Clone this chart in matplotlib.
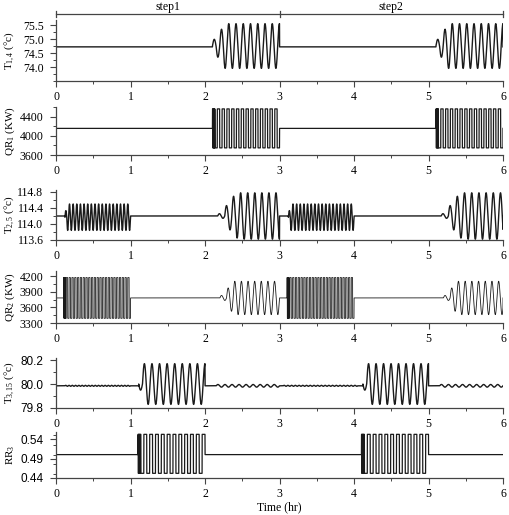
import numpy as np
import matplotlib
matplotlib.use('Agg')
import matplotlib.pyplot as plt
from matplotlib.ticker import MultipleLocator
import matplotlib.transforms as mtransforms

# ---- values ----
# T1,4 : baseline, then a growing sine in each step
T14_BASE = 74.72
T14_START = [2.10, 5.10]
T14_END = [3.00, 6.00]
T14_CYCLES = [9.25, 9.25]
T14_MID = 74.75
T14_AMP = 0.80
T14_RAMP = [0.30, 0.50, 0.75, 1.0]

# QR1 : square wave (with a dense burst at its start)
QR1_BASE = 4160
QR1_START = [2.10, 5.10]
QR1_END = [3.00, 6.00]
QR1_CYCLES = [14, 14]
QR1_HI = 4570
QR1_LO = 3750

# T2,5 : fast small sine, then slow large sine
T25_BASE = 114.2
T25_FAST_START = [0.12, 3.12]
T25_FAST_END = [1.00, 4.00]
T25_FAST_CYCLES = [18, 18]
T25_FAST_MID = 114.17
T25_FAST_AMP = 0.33
T25_FAST_RAMP = [0.5]
T25_SLOW_START = [2.17, 5.17]
T25_SLOW_END = [3.00, 6.00]
T25_SLOW_CYCLES = [8.75, 8.6]
T25_SLOW_MID = 114.2
T25_SLOW_AMP = 0.58
T25_SLOW_RAMP = [0.1, 0.1, 0.45, 0.6, 0.85, 0.95]

# QR2 : fast square wave, then growing sine
QR2_BASE = 3780
QR2_SQ_START = [0.10, 3.10]
QR2_SQ_END = [1.00, 4.00]
QR2_SQ_CYCLES = [24, 24]
QR2_HI = 4170
QR2_LO = 3390
QR2_SIN_START = [2.20, 5.20]
QR2_SIN_END = [3.00, 6.00]
QR2_SIN_CYCLES = [9, 8.9]
QR2_SIN_AMP = 320
QR2_SIN_RAMP = [0.15, 0.15, 0.6, 0.8]

# T3,15 : ripples, big sine, ripples
T315_BASE = 79.985
T315_PRE_START = [0.12, 3.05]
T315_PRE_END = [1.00, 4.05]
T315_PRE_CYCLES = [20, 20]
T315_PRE_AMP = 0.004
T315_BIG_START = [1.11, 4.12]
T315_BIG_END = [2.00, 5.00]
T315_BIG_CYCLES = [8.75, 8.75]
T315_BIG_MID = 80.0
T315_BIG_AMP = 0.17
T315_BIG_RAMP = [0.3]
T315_POST_START = [2.15, 5.15]
T315_POST_END = [3.00, 6.00]
T315_POST_CYCLES = [9, 9]
T315_POST_AMP = 0.011

# RR3 : square wave
RR3_BASE = 0.500
RR3_START = [1.10, 4.10]
RR3_END = [2.00, 5.00]
RR3_CYCLES = [11.5, 11.5]
RR3_HI = 0.552
RR3_LO = 0.452

X_TICKS = [0, 1, 2, 3, 4, 5, 6]
STEP_LABELS = ['step1', 'step2']
STEP_EDGES = [0, 3, 6]

t = np.linspace(0, 6, 24001)


def add_sine(y, t0, t1, cycles, mid, amp, ramp=(), sign=1):
    m = (t >= t0) & (t < t1)
    ph = (t[m] - t0) / (t1 - t0) * cycles
    env = np.ones_like(ph)
    for i, r in enumerate(ramp):
        env[(ph >= i * 0.5) & (ph < (i + 1) * 0.5)] = r
    y[m] = mid + sign * amp * env * np.sin(2 * np.pi * ph)


def add_square(y, t0, t1, cycles, hi, lo, burst=0.03, nburst=4):
    m = (t >= t0) & (t < t1)
    ph = (t[m] - t0) / (t1 - t0) * cycles
    y[m] = np.where((ph % 1) < 0.5, hi, lo)
    b = (t >= t0) & (t < t0 + burst)
    phb = (t[b] - t0) / burst * nburst
    y[b] = np.where((phb % 1) < 0.5, hi, lo)


# build the six traces
y1 = np.full_like(t, T14_BASE)
for a, b, c in zip(T14_START, T14_END, T14_CYCLES):
    add_sine(y1, a, b, c, T14_MID, T14_AMP, T14_RAMP)

y2 = np.full_like(t, QR1_BASE)
for a, b, c in zip(QR1_START, QR1_END, QR1_CYCLES):
    add_square(y2, a, b, c, QR1_HI, QR1_LO)

y3 = np.full_like(t, T25_BASE)
for a, b, c in zip(T25_FAST_START, T25_FAST_END, T25_FAST_CYCLES):
    add_sine(y3, a, b, c, T25_FAST_MID, T25_FAST_AMP, T25_FAST_RAMP)
for a, b, c in zip(T25_SLOW_START, T25_SLOW_END, T25_SLOW_CYCLES):
    add_sine(y3, a, b, c, T25_SLOW_MID, T25_SLOW_AMP, T25_SLOW_RAMP)

y4 = np.full_like(t, QR2_BASE)
for a, b, c in zip(QR2_SQ_START, QR2_SQ_END, QR2_SQ_CYCLES):
    add_square(y4, a, b, c, QR2_HI, QR2_LO)
for a, b, c in zip(QR2_SIN_START, QR2_SIN_END, QR2_SIN_CYCLES):
    add_sine(y4, a, b, c, QR2_BASE, QR2_SIN_AMP, QR2_SIN_RAMP)

y5 = np.full_like(t, T315_BASE)
for a, b, c in zip(T315_PRE_START, T315_PRE_END, T315_PRE_CYCLES):
    add_sine(y5, a, b, c, T315_BASE, T315_PRE_AMP)
for a, b, c in zip(T315_BIG_START, T315_BIG_END, T315_BIG_CYCLES):
    add_sine(y5, a, b, c, T315_BIG_MID, T315_BIG_AMP, T315_BIG_RAMP, sign=-1)
for a, b, c in zip(T315_POST_START, T315_POST_END, T315_POST_CYCLES):
    add_sine(y5, a, b, c, T315_BASE, T315_POST_AMP)

y6 = np.full_like(t, RR3_BASE)
for a, b, c in zip(RR3_START, RR3_END, RR3_CYCLES):
    add_square(y6, a, b, c, RR3_HI, RR3_LO)

plt.rcParams['font.family'] = 'Liberation Serif'
plt.rcParams['mathtext.fontset'] = 'custom'
plt.rcParams['mathtext.rm'] = 'Liberation Serif'
plt.rcParams['mathtext.it'] = 'Liberation Serif:italic'
plt.rcParams['font.size'] = 8.5

W, H = 509, 515
fig = plt.figure(figsize=(W / 100, H / 100), dpi=100)

# (top px, bottom px) of each panel, trace, ylim, major, minor, y label, tick font, format, line width
panels = [
    ((20, 81), y1, (73.5, 75.68), [74.0, 74.5, 75.0, 75.5], 0.25,
     r'T$_{\mathrm{1,4}}$ (°c)', 'Liberation Serif', '%.1f', 1.0),
    ((107, 155), y2, (3600, 4610), [3600, 4000, 4400], 200,
     r'QR$_{\mathrm{1}}$ (KW)', 'Liberation Serif', '%d', 0.9),
    ((190, 240), y3, (113.6, 114.85), [113.6, 114.0, 114.4, 114.8], 0.2,
     r'T$_{\mathrm{2,5}}$ (°c)', 'Liberation Serif', '%.1f', 1.0),
    ((271, 323), y4, (3300, 4296), [3300, 3600, 3900, 4200], 150,
     r'QR$_{\mathrm{2}}$ (KW)', 'Liberation Serif', '%d', 0.6),
    ((358, 408), y5, (79.8, 80.217), [79.8, 80.0, 80.2], 0.1,
     r'T$_{\mathrm{3,15}}$ (°c)', 'Liberation Sans', '%.1f', 1.0),
    ((432, 478), y6, (0.44, 0.558), [0.44, 0.49, 0.54], 0.025,
     r'RR$_{\mathrm{3}}$', 'Liberation Sans', '%.2f', 0.9),
]

axes = []
for (top, bot), yy, ylim, yt, ymin, lab, tfont, fmt, lw in panels:
    ax = fig.add_axes([56 / W, 1 - bot / H, (503 - 56) / W, (bot - top) / H])
    ax.plot(t, yy, color='#1a1a1a', lw=lw)
    ax.set_xlim(0, 6)
    ax.set_ylim(*ylim)
    ax.set_xticks(X_TICKS)
    ax.xaxis.set_minor_locator(MultipleLocator(0.5))
    ax.set_yticks(yt)
    ax.set_yticklabels([fmt % v for v in yt], family=tfont)
    ax.yaxis.set_minor_locator(MultipleLocator(ymin))
    for s in ['top', 'right']:
        ax.spines[s].set_visible(False)
    for s in ['left', 'bottom']:
        ax.spines[s].set_color('#444444')
        ax.spines[s].set_linewidth(0.9)
    ax.tick_params(which='major', length=4, width=0.8, color='#444444')
    ax.tick_params(which='minor', length=2.5, width=0.7, color='#444444')
    ax.tick_params(axis='x', pad=3)
    ax.tick_params(axis='y', pad=5)
    ax.set_ylabel(lab, fontsize=8)
    ax.yaxis.set_label_coords(-0.088, 0.5)
    axes.append(ax)

axes[-1].set_xlabel('Time (hr)', fontsize=8.5, labelpad=1)

# step brackets above the top panel
ax0 = axes[0]
tr = mtransforms.blended_transform_factory(ax0.transData, ax0.transAxes)
ax0.plot([STEP_EDGES[0], STEP_EDGES[-1]], [1.098, 1.098], transform=tr,
         color='#444444', lw=0.9, clip_on=False)
for e in STEP_EDGES:
    ax0.plot([e, e], [1.05, 1.14], transform=tr, color='#444444', lw=0.9,
             clip_on=False)
for i, s in enumerate(STEP_LABELS):
    mid = (STEP_EDGES[i] + STEP_EDGES[i + 1]) / 2
    ax0.text(mid, 1.21, s, transform=tr, ha='center', va='center', fontsize=8.5)

fig.savefig('out.png', dpi=100)
